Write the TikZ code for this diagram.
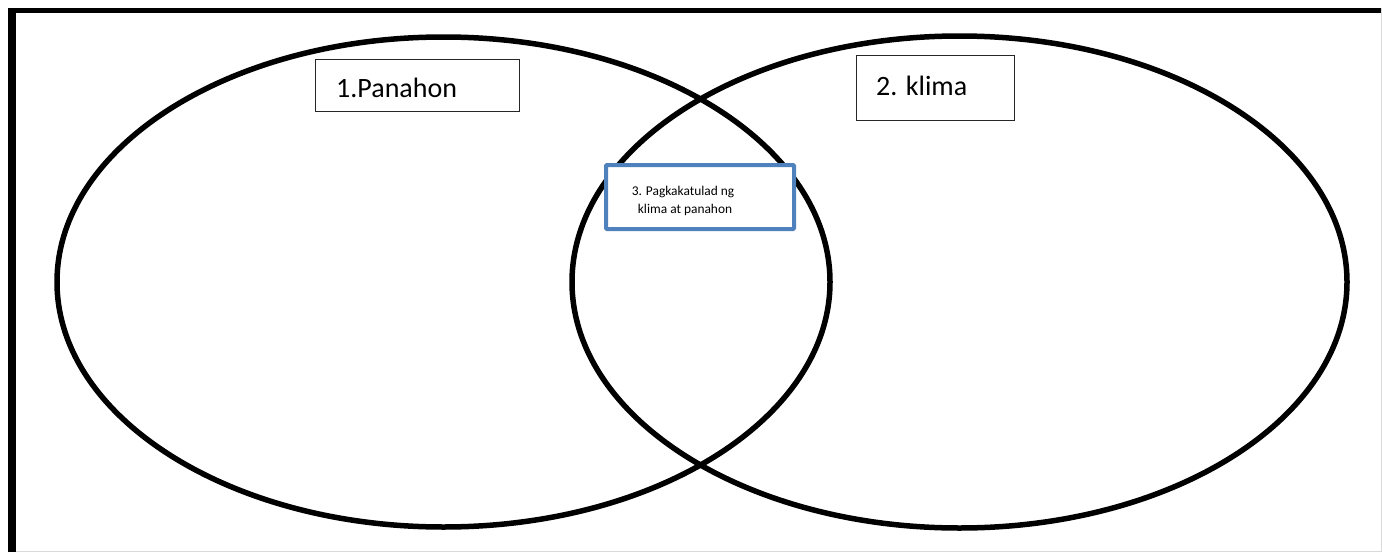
\documentclass[tikz,border=0pt]{standalone}
\usepackage{fontspec}
\setmainfont{Carlito}
\definecolor{boxblue}{RGB}{79,129,189}
\begin{document}
\begin{tikzpicture}[x=1pt,y=-1pt,
  venn/.style={draw=black, line width=5.5pt},
  labelbox/.style={draw=black!85, line width=1pt, fill=white, inner sep=0pt},
  bluebox/.style={draw=boxblue, line width=4pt, fill=white, rounded corners=1pt, inner sep=0pt},
  bigtext/.style={font=\fontsize{28}{32}\selectfont, inner sep=0pt, anchor=base west},
  smalltext/.style={font=\fontsize{13.4}{18}\selectfont, inner sep=0pt, anchor=base}]
\useasboundingbox (0,0) rectangle (1382,552);
\fill[white] (0,0) rectangle (1382,552);
% frame
\draw[line width=8pt] (12,552) -- (12,10.5);
\draw[line width=5pt] (8,10.5) -- (1382,10.5);
\draw[black!15, line width=1pt] (1381.5,8) -- (1381.5,551.5) -- (16,551.5);
% circles
\draw[venn] (443.5,282) ellipse [x radius=386.5, y radius=245];
\draw[venn] (959.5,282) ellipse [x radius=387.5, y radius=246];
% boxes
\node[labelbox, minimum width=204pt, minimum height=52pt] (b1) at (417,85) {};
\node[bigtext] (t1) at (336,97) {1.Panahon};
\node[labelbox, minimum width=158pt, minimum height=65pt] (b2) at (935,87.5) {};
\node[bigtext] (t2) at (876,95) {2. klima};
\node[bluebox, minimum width=188pt, minimum height=64pt] (b3) at (700,197) {};
\node[smalltext] (t3a) at (683,195) {3. Pagkakatulad ng};
\node[smalltext] (t3b) at (685,213) {klima at panahon};
\end{tikzpicture}
\end{document}
